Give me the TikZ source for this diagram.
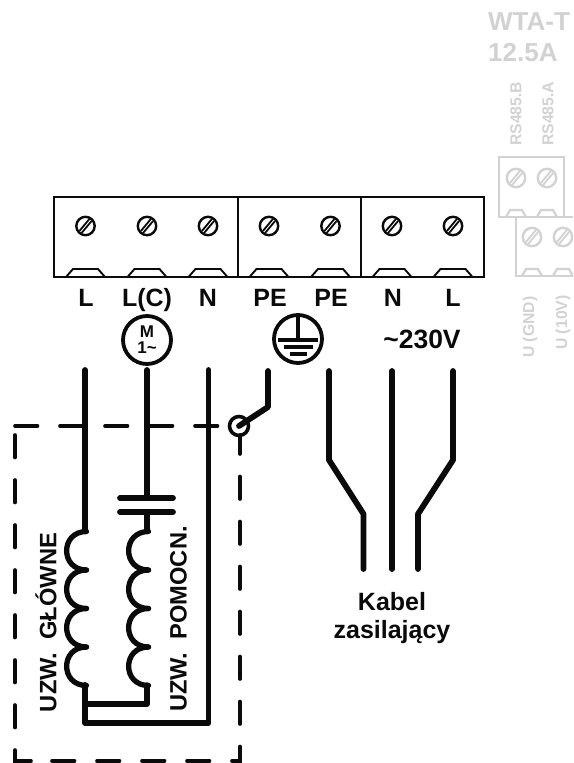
\documentclass[tikz,border=0pt]{standalone}
\usepackage{fontspec}
\setmainfont{Liberation Sans}
\definecolor{pale}{HTML}{D2D2D2}
\definecolor{ink}{HTML}{0A0A0A}
\tikzset{
  wire/.style={draw=ink,line width=5.8pt,line cap=round,line join=round},
  dashline/.style={draw=ink,line width=3.6pt,line cap=round,line join=miter,dash pattern=on 22.5pt off 22.5pt},
  lab/.style={font=\bfseries\fontsize{25}{25}\selectfont,text=ink,inner sep=0pt,anchor=base},
  greylab/.style={font=\bfseries\fontsize{15.8}{16}\selectfont,text=pale,inner sep=0pt,rotate=90,anchor=west},
  boxline/.style={draw=ink,line width=2.5pt},
  greybox/.style={draw=pale,line width=2.2pt},
  pics/screw/.style={code={
    \draw[#1,line width=2.4pt,fill=white] (0,0) circle (9.2pt);
    \draw[#1,line width=1.8pt] (-6,4.9) -- (3.9,-7);
    \draw[#1,line width=1.8pt] (-3.9,7) -- (6,-4.9);
  }},
}
\begin{document}
\begin{tikzpicture}[x=1pt,y=-1pt]
\useasboundingbox (0,0) rectangle (573,763);
\clip (0,0) rectangle (573,763);
% main terminal block
\draw[boxline] (54,197) rectangle (484,277);
\draw[boxline] (238,197) -- (238,277);
\draw[boxline] (361,197) -- (361,277);
\foreach \x in {85.5,147,208,269,330.5,392,453}{
  \pic at (\x,226) {screw=ink};
  \draw[draw=ink,line width=1.9pt] (\x-19.5,277) -- (\x-12.5,269) -- (\x+12.5,269) -- (\x+19.5,277);
}
% pale terminal blocks
\draw[greybox] (564,217) -- (564,157) -- (499,157) -- (499,217) -- (573,217);
\draw[greybox] (516,217) -- (516,276) -- (573,276);
\foreach \x in {516,547}{
  \pic at (\x,178) {screw=pale};
  \draw[greybox] (\x-10,217) -- (\x-6,210) -- (\x+6,210) -- (\x+10,217);
}
\foreach \x in {532,563}{
  \pic at (\x,237) {screw=pale};
  \draw[greybox] (\x-10,276) -- (\x-6,269) -- (\x+6,269) -- (\x+10,276);
}
% labels
\node[lab] (tL1) at (86,306) {L};
\node[lab] (tLC) at (147,306) {L(C)};
\node[lab] (tN1) at (208,306) {N};
\node[lab] (tPE1) at (270,306) {PE};
\node[lab] (tPE2) at (331,306) {PE};
\node[lab] (tN2) at (393,306) {N};
\node[lab] (tL2) at (453,306) {L};
\node[lab,font=\bfseries\fontsize{26.5}{26}\selectfont] (volt) at (422,348.5) {\char`\~230V};
\node[lab] (kab) at (392,610) {Kabel};
\node[lab] (zas) at (392,638) {zasilający};
\node[rotate=90,inner sep=0pt,text=ink,font=\bfseries\fontsize{23.7}{24}\selectfont] (uz1) at (46,622.5) {UZW.\ \ GŁÓWNE};
\node[rotate=90,inner sep=0pt,text=ink,font=\bfseries\fontsize{23.7}{24}\selectfont] (uz2) at (178.5,619) {UZW.\ \ POMOCN.};
% pale labels
\node[font=\bfseries\fontsize{26}{26}\selectfont,text=pale,inner sep=0pt,anchor=west] (wta) at (488,22) {WTA-T};
\node[font=\bfseries\fontsize{26}{26}\selectfont,text=pale,inner sep=0pt,anchor=west] (amp) at (488,53) {12.5A};
\node[greylab] (rsb) at (516,146) {RS485.B};
\node[greylab] (rsa) at (548,146) {RS485.A};
\node[greylab] (ugnd) at (530,358) {U (GND)};
\node[greylab] (uten) at (563,350) {U (10V)};
% motor
\node[circle,draw=ink,line width=3.8pt,minimum size=48pt,inner sep=0pt,text=ink,
      font=\bfseries\fontsize{17}{16}\selectfont,align=center] (mot) at (147,340) {M\\1\char`\~};
% earth
\node[circle,draw=ink,line width=3.8pt,minimum size=48pt,inner sep=0pt] (gnd) at (298,339) {};
\draw[ink,line width=3.4pt] (298,316) -- (298,340);
\draw[ink,line width=3.4pt] (278,340) -- (318,340);
\draw[ink,line width=3.4pt] (284,347) -- (313,347);
\draw[ink,line width=3.4pt] (290,354) -- (307,354);
% dashed enclosure
\draw[dashline] (15,426) -- (222,426);
\draw[dashline] (15,435) -- (15,735);
\draw[draw=ink,line width=3.6pt,line cap=round,line join=miter] (15,750) -- (15,761) -- (31,761);
\draw[dashline] (52,761) -- (240,761) -- (240,435);
% switch
\node[circle,draw=ink,line width=3.6pt,minimum size=19pt,inner sep=0pt] (sw) at (239,426) {};
\coordinate (sw1) at (268,371);
\coordinate (sw2) at (268,407);
\draw[wire] (sw1) -- (sw2) -- (sw.center);
% windings
\draw[wire] (85,370) -- (85,531);
\draw[wire] (147,370) -- (147,498);
\draw[wire] (147,512) -- (147,531);
\draw[wire] (120,498) -- (173,498);
\draw[wire] (120,512) -- (173,512);
\foreach \cx in {85,147}{
  \foreach \y in {531.5,570,608.5,647}{
    \draw[wire,line width=5.3pt] (\cx+1.5,\y) .. controls (\cx-25,\y) and (\cx-25,\y+38.5) .. (\cx+1.5,\y+38.5);
  }
}
\draw[wire] (85,685) -- (85,723) -- (208.5,723) -- (208.5,370);
\draw[wire,line width=5.3pt] (85,704) -- (147,704) -- (147,685);
% supply cable
\draw[wire] (329,371) -- (329,460) -- (363.5,514) -- (363.5,569);
\draw[wire] (392,371) -- (392,569);
\draw[wire] (453,371) -- (453,460) -- (418,514) -- (418,569);
\end{tikzpicture}
\end{document}
